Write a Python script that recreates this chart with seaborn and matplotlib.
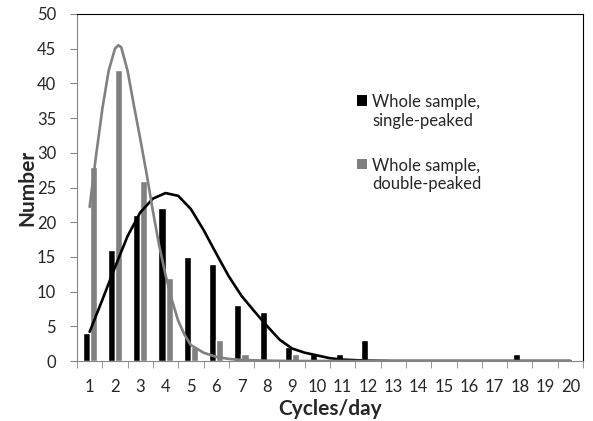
import numpy as np
import pandas as pd
import matplotlib
matplotlib.use('Agg')
import matplotlib.pyplot as plt
from matplotlib.patches import Patch, Rectangle
from matplotlib.legend_handler import HandlerPatch
import seaborn as sns

# bar counts per cycles/day bin
cycles = list(range(1, 21))
single_peaked = [4, 16, 21, 22, 15, 14, 8, 7, 2, 1, 1, 3, 0, 0, 0, 0, 0, 1, 0, 0]
double_peaked = [28, 42, 26, 12, 2, 3, 1, 0, 1, 0, 0, 0, 0, 0, 0, 0, 0, 0, 0, 0]

# fitted curves
fit_single_x = [1.0, 1.5, 2.0, 2.5, 3.0, 3.5, 4.0, 4.5, 5.0, 5.5, 6.0, 6.5,
                7.0, 7.5, 8.0, 8.5, 9.0, 9.5, 10.0, 10.5, 11.0, 12.0, 13.0, 20.0]
fit_single_y = [4.2, 8.8, 13.5, 18.0, 21.4, 23.4, 24.2, 23.8, 21.9, 18.9,
                15.5, 12.2, 9.4, 7.2, 5.1, 3.1, 1.8, 1.2, 0.8, 0.4, 0.2, 0.05,
                0.0, 0.0]
fit_double_x = [1.0, 1.25, 1.5, 1.75, 2.0, 2.13, 2.25, 2.5, 2.75, 3.0, 3.25,
                3.5, 3.75, 4.0, 4.25, 4.5, 4.75, 5.0, 5.5, 6.0, 6.5, 7.0, 8.0,
                9.0, 20.0]
fit_double_y = [22.2, 29.5, 36.3, 41.8, 45.0, 45.5, 45.2, 41.8, 36.8, 32.0,
                27.0, 21.6, 16.6, 12.4, 8.8, 5.8, 3.8, 2.3, 1.2, 0.6, 0.3,
                0.15, 0.05, 0.0, 0.0]

labels = ['Whole sample,\nsingle-peaked', 'Whole sample,\ndouble-peaked']
colors = ['#000000', '#808080']

sns.set_style('ticks')
plt.rcParams['font.family'] = ['Lato', 'DejaVu Sans']

df = pd.DataFrame({
    'cycles': cycles * 2,
    'count': single_peaked + double_peaked,
    'sample': [labels[0]] * 20 + [labels[1]] * 20,
})

fig = plt.figure(figsize=(5.93, 4.21), dpi=100)
ax = fig.add_axes([77 / 593, 1 - 361 / 421, (583 - 77) / 593, (361 - 14) / 421])

sns.barplot(data=df, x='cycles', y='count', hue='sample', palette=colors,
            width=0.56, saturation=1, legend=False, ax=ax, zorder=2)

sns.lineplot(x=np.array(fit_single_x) - 1, y=fit_single_y, color=colors[0],
             lw=1.9, ax=ax, zorder=3)
sns.lineplot(x=np.array(fit_double_x) - 1, y=fit_double_y, color=colors[1],
             lw=1.9, ax=ax, zorder=4)

ax.set_xlim(-0.5, 19.5)
ax.set_ylim(0, 50)
ax.set_yticks(range(0, 51, 5))
ax.set_xticks(range(20))
ax.set_xticklabels([str(c) for c in cycles])
ax.set_xticks(np.arange(-0.5, 20, 1), minor=True)

ax.tick_params(axis='x', which='major', length=0, labelsize=12, pad=13)
ax.tick_params(axis='x', which='minor', length=5, color='#868686')
ax.tick_params(axis='y', length=5, color='#868686', labelsize=12, pad=10)

for s in ['left', 'bottom']:
    ax.spines[s].set_color('#868686')
for s in ['top', 'right']:
    ax.spines[s].set_color('#000000')
    ax.spines[s].set_visible(True)

ax.set_xlabel('Cycles/day', fontsize=15, fontweight='bold', labelpad=3)
ax.set_ylabel('Number', fontsize=15, fontweight='bold', labelpad=0)


# square next to the first line of the two-line label
def top_square(legend, orig_handle, xdescent, ydescent, width, height, fontsize):
    return Rectangle((-xdescent, -ydescent + 0.7 * fontsize), width, height)


handles = [Patch(facecolor=c, edgecolor='none') for c in colors]
ax.legend(handles, labels, loc='upper left', bbox_to_anchor=(357 / 593, 1 - 94 / 421),
          bbox_transform=fig.transFigure, frameon=False, fontsize=12,
          handlelength=0.6, handleheight=0.6, handletextpad=0.3,
          labelspacing=1.75, borderpad=0, borderaxespad=0,
          handler_map={Patch: HandlerPatch(patch_func=top_square)})

fig.savefig('out.png', dpi=100)
